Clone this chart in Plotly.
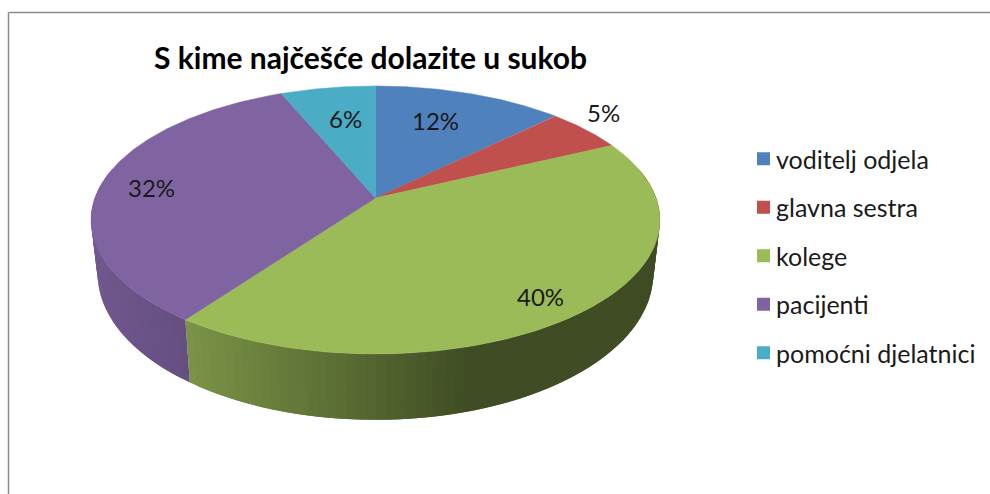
import numpy as np
import plotly.graph_objects as go

categories = ["voditelj odjela", "glavna sestra", "kolege", "pacijenti", "pomoćni djelatnici"]
percent = [12, 5, 40, 32, 6]
colors = ["#4F81BD", "#C0504D", "#9BBB59", "#8064A2", "#4BACC6"]
title = "S kime najčešće dolazite u sukob"

# projection of the tilted disc on to the pixel-sized axes
CX, APEX_Y, SX, SY, P = 375.5, 198, 280.6, 130.4, 0.164
BOT_SX, BOT_Y, BOT_SY = 274, 250, 142
label_xy = [(435, 120), (603, 112), (540, 296), (151, 187), (345, 118)]


def top(t):
    X, Y = np.sin(t), np.cos(t)
    w = 1 + P * Y
    return CX + SX * X / w, APEX_Y - SY * Y / w


def bottom(t):
    X, Y = np.sin(t), np.cos(t)
    w = 1 + P * Y
    return CX + BOT_SX * X / w, BOT_Y - BOT_SY * Y / w


def shade(rgb_hex, x):
    f = np.interp(x, [95, 188, 470], [0.88, 0.79, 0.41])
    r, g, b = [int(rgb_hex[i:i + 2], 16) for i in (1, 3, 5)]
    return f"rgb({int(r * f)},{int(g * f)},{int(b * f)})"


fig = go.Figure()
edges = 2 * np.pi * np.concatenate([[0], np.cumsum(percent)]) / sum(percent)

# side walls: overlapping quads along the rim, shaded from left to right
for a0, a1, col in zip(edges[:-1], edges[1:], colors):
    n = max(2, int((a1 - a0) / 0.03))
    ts = np.linspace(a0, a1, n + 1)
    step = ts[1] - ts[0]
    order = range(n) if col != colors[2] else range(n - 1, -1, -1)
    for i in order:
        t0, t1 = ts[i], ts[i + 1]
        if np.cos((t0 + t1) / 2) > 0.2:
            continue
        if col == colors[2]:
            t0 = t0 - step if i > 0 else t0
        else:
            t1 = t1 + step if i < n - 1 else t1
        x0, y0 = top(t0)
        x1, y1 = top(t1)
        x2, y2 = bottom(t1)
        x3, y3 = bottom(t0)
        c = shade(col, (top(ts[i])[0] + top(ts[i + 1])[0]) / 2)
        fig.add_trace(go.Scatter(
            x=[x0, x1, x2, x3, x0], y=[y0, y1, y2, y3, y0], mode="lines",
            fill="toself", fillcolor=c, line=dict(color=c, width=0),
            showlegend=False, hoverinfo="skip"))

# top faces
for a0, a1, col, name in zip(edges[:-1], edges[1:], colors, categories):
    ts = np.linspace(a0, a1, 120)
    xs, ys = top(ts)
    fig.add_trace(go.Scatter(
        x=np.r_[CX, xs, CX], y=np.r_[APEX_Y, ys, APEX_Y], mode="lines",
        fill="toself", fillcolor=col, line=dict(color=col, width=0.5),
        showlegend=False, name=name, hoverinfo="name"))

# legend entries
for name, col in zip(categories, colors):
    fig.add_trace(go.Scatter(
        x=[None], y=[None], mode="markers", name=name, legendgroup=name,
        marker=dict(symbol="square", size=13, color=col)))

for p, (lx, ly) in zip(percent, label_xy):
    fig.add_annotation(x=lx, y=ly, text=f"{p}%", showarrow=False,
                       font=dict(family="Lato", size=24, color="#1a1a1a"))

fig.add_annotation(x=370, y=56.5, text=f"<b>{title}</b>", showarrow=False,
                   font=dict(family="Lato", size=30, color="#000000"))

fig.add_shape(type="line", x0=8.5, x1=990, y0=12.5, y1=12.5,
              line=dict(color="#8c8c8c", width=1.5))
fig.add_shape(type="line", x0=8.5, x1=8.5, y0=12.5, y1=494,
              line=dict(color="#8c8c8c", width=1.5))

fig.update_layout(
    width=990, height=494, margin=dict(l=0, r=0, t=0, b=0),
    paper_bgcolor="white", plot_bgcolor="white",
    xaxis=dict(range=[0, 990], visible=False, fixedrange=True),
    yaxis=dict(range=[494, 0], visible=False, fixedrange=True),
    legend=dict(x=736 / 990, y=1 - 136 / 494, xanchor="left", yanchor="top",
                font=dict(family="Lato", size=25, color="#1a1a1a"),
                tracegroupgap=13, itemwidth=30, bgcolor="rgba(0,0,0,0)"),
    showlegend=True,
)
fig.write_html(
    "out.html",
    config={"displayModeBar": False},
    post_script=(
        "document.body.style.margin='0';"
        "document.querySelectorAll('.legendsymbols').forEach("
        "function(e){e.setAttribute('transform','translate(7.5,0)');});"
    ),
)
